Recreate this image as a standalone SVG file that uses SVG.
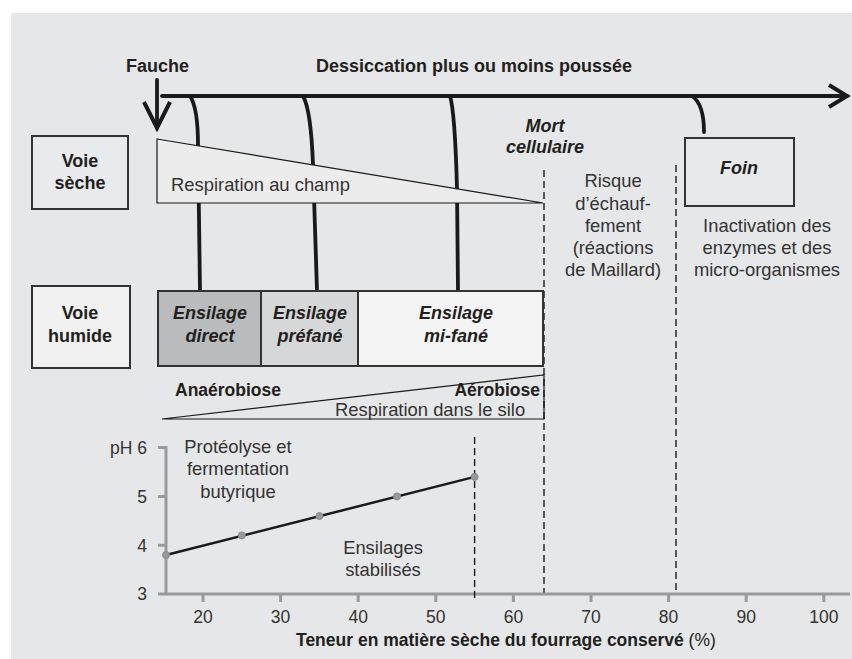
<svg xmlns="http://www.w3.org/2000/svg" width="852" height="659" viewBox="0 0 852 659">
<style>
text{font-family:"Liberation Sans",Arial,sans-serif;fill:#231f20}
.b{font-weight:bold;font-size:18px}
.bi{font-weight:bold;font-style:italic;font-size:18px}
.r{font-size:18.4px;fill:#333}
.ax{font-size:17.5px;fill:#333}
.m{text-anchor:middle}
.e{text-anchor:end}
.box{stroke:#333;stroke-width:2}
.cur{fill:none;stroke:#1a1a1a;stroke-width:3.8;stroke-linecap:round}
.dash{stroke:#1a1a1a;stroke-width:1.4;stroke-dasharray:7,4;fill:none}
.axis{stroke:#9a9a9a;stroke-width:3;fill:none}
</style>
<defs>
<marker id="arrMain" viewBox="-22 -14 26 28" markerWidth="26" markerHeight="28" refX="0" refY="0" orient="auto" markerUnits="userSpaceOnUse">
<path d="M-18,-11 L0,0 L-18,11" fill="none" stroke="#1a1a1a" stroke-width="4"/>
</marker>
<marker id="arrFauche" viewBox="-30 -16 34 32" markerWidth="34" markerHeight="32" refX="0" refY="0" orient="auto" markerUnits="userSpaceOnUse">
<path d="M-26,-13 L0,0 L-26,13" fill="none" stroke="#1a1a1a" stroke-width="4"/>
</marker>
</defs>
<rect x="11" y="13" width="841" height="646" fill="#e6e7e8"/>

<g id="connectors">
<path class="cur" d="M162,96 L847,96" marker-end="url(#arrMain)"/>
<path class="cur" d="M157,80 L157,128" marker-end="url(#arrFauche)"/>
<path class="cur" d="M190,96 Q198,108 198,145 L200,291"/>
<path class="cur" d="M303,96 Q311,110 313,165 L317,291"/>
<path class="cur" d="M450,96 Q455,112 457,189 L458,291"/>
<path class="cur" d="M692,96 Q704,104 704,132"/>
</g>

<g id="guides">
<line class="dash" x1="544" y1="170" x2="544" y2="593"/>
<line class="dash" x1="676" y1="165" x2="676" y2="590"/>
</g>

<text class="b" x="126" y="72">Fauche</text>
<text class="b" x="316" y="72">Dessiccation plus ou moins poussée</text>

<g id="voie-seche">
<rect class="box" x="32" y="136" width="96" height="73" fill="#e9eaeb"/>
<text class="b m" x="80" y="167">Voie</text>
<text class="b m" x="80" y="189">sèche</text>
</g>

<g id="respiration-champ">
<polygon points="157,139 543,203 157,203" fill="#ececed" stroke="#1a1a1a" stroke-width="1.2"/>
<text class="r" x="171" y="191">Respiration au champ</text>
</g>

<g id="mort-cellulaire">
<text class="bi m" x="545" y="132">Mort</text>
<text class="bi m" x="545" y="153">cellulaire</text>
</g>

<g id="risque">
<text class="r m" x="613" y="187">Risque</text>
<text class="r m" x="613" y="210">d’échauf-</text>
<text class="r m" x="613" y="232">fement</text>
<text class="r m" x="613" y="254">(réactions</text>
<text class="r m" x="613" y="276">de Maillard)</text>
</g>

<g id="foin">
<rect class="box" x="685" y="138" width="109" height="68" fill="#e8e9ea"/>
<text class="bi m" x="739" y="174">Foin</text>
</g>

<g id="inactivation">
<text class="r m" x="767" y="232">Inactivation des</text>
<text class="r m" x="767" y="254">enzymes et des</text>
<text class="r m" x="767" y="276">micro-organismes</text>
</g>

<g id="voie-humide">
<rect class="box" x="32" y="286" width="98" height="82" fill="#f1f1f2"/>
<text class="b m" x="80" y="319">Voie</text>
<text class="b m" x="80" y="342">humide</text>
</g>

<g id="ensilage-direct">
<rect class="box" x="158" y="291" width="103" height="75" fill="#babbbd"/>
<text class="bi m" x="210" y="319">Ensilage</text>
<text class="bi m" x="210" y="342">direct</text>
</g>
<g id="ensilage-prefane">
<rect class="box" x="261" y="291" width="97" height="75" fill="#d6d7d9"/>
<text class="bi m" x="310" y="319">Ensilage</text>
<text class="bi m" x="310" y="342">préfané</text>
</g>
<g id="ensilage-mi-fane">
<rect class="box" x="358" y="291" width="185" height="75" fill="#f4f4f5"/>
<text class="bi m" x="456" y="319">Ensilage</text>
<text class="bi m" x="456" y="342">mi-fané</text>
</g>

<g id="respiration-silo">
<polygon points="162,419 544,375 544,419" fill="none" stroke="#1a1a1a" stroke-width="1.2"/>
<text class="b" x="175" y="396" style="font-size:17.5px">Anaérobiose</text>
<text class="b e" x="540" y="396" style="font-size:17.5px">Aérobiose</text>
<text class="r" x="335" y="416">Respiration dans le silo</text>
</g>

<g id="chart">
<path class="axis" d="M158,447.6 H166 M158,496.4 H166 M158,545.2 H166 M158,594 H850 M166,446 V594"/>
<path class="axis" d="M203,594 V602 M280.6,594 V602 M358.2,594 V602 M435.8,594 V602 M513.4,594 V602 M591,594 V602 M668.6,594 V602 M746.2,594 V602 M823.8,594 V602"/>
<text class="ax" x="110" y="454">pH</text>
<text class="ax e" x="147" y="454">6</text>
<text class="ax e" x="147" y="503">5</text>
<text class="ax e" x="147" y="552">4</text>
<text class="ax e" x="147" y="600">3</text>
<text class="ax m" x="203" y="623">20</text>
<text class="ax m" x="280.6" y="623">30</text>
<text class="ax m" x="358.2" y="623">40</text>
<text class="ax m" x="435.8" y="623">50</text>
<text class="ax m" x="513.4" y="623">60</text>
<text class="ax m" x="591" y="623">70</text>
<text class="ax m" x="668.6" y="623">80</text>
<text class="ax m" x="746.2" y="623">90</text>
<text class="ax m" x="823.8" y="623">100</text>
<text x="296" y="646" style="font-size:17.5px;font-weight:bold">Teneur en matière sèche du fourrage conservé<tspan style="font-weight:normal"> (%)</tspan></text>
<line class="dash" x1="474.6" y1="437" x2="474.6" y2="598"/>
<line x1="166" y1="555" x2="474.6" y2="476.9" stroke="#1a1a1a" stroke-width="2.5"/>
<g fill="#999" stroke="#888" stroke-width="1">
<circle cx="166" cy="555" r="3.5"/>
<circle cx="241.8" cy="535.4" r="3.5"/>
<circle cx="319.4" cy="516" r="3.5"/>
<circle cx="397" cy="496.4" r="3.5"/>
<circle cx="474.6" cy="476.9" r="3.5"/>
</g>
<text class="r m" x="238" y="453">Protéolyse et</text>
<text class="r m" x="238" y="475">fermentation</text>
<text class="r m" x="238" y="498">butyrique</text>
<text class="r m" x="383" y="554">Ensilages</text>
<text class="r m" x="383" y="576">stabilisés</text>
</g>
</svg>
